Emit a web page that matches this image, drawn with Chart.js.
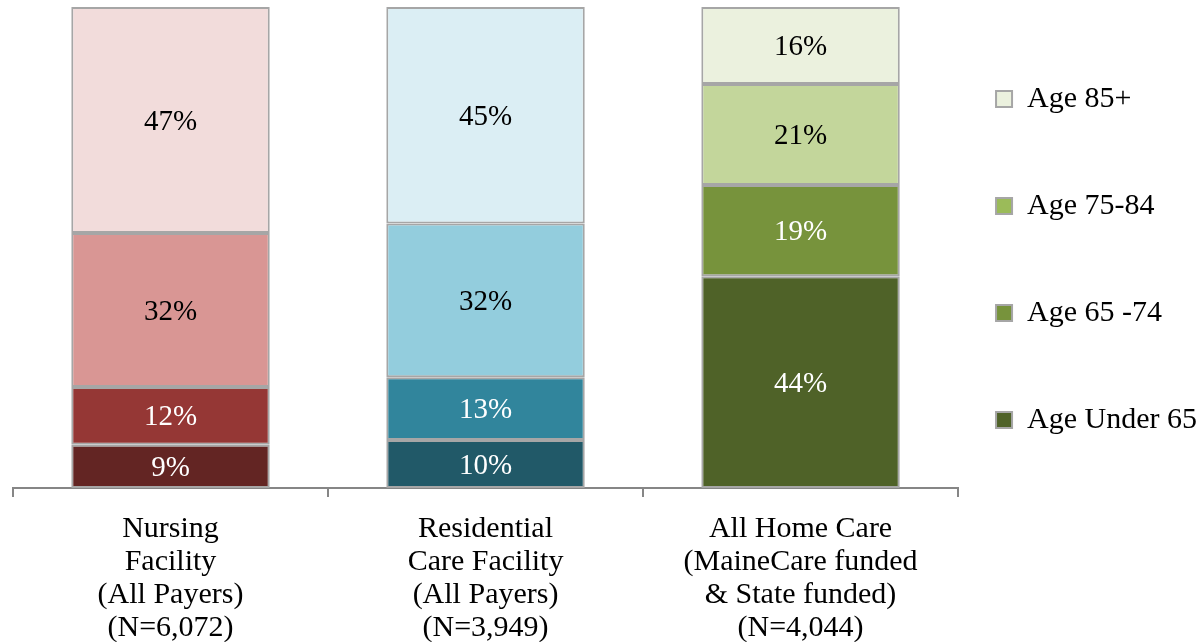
<!DOCTYPE html>
<html>
<head>
<meta charset="utf-8">
<script src="https://cdn.jsdelivr.net/npm/chart.js@4"></script>
<style>
    html, body { margin: 0; padding: 0; background: #fff; }
    #wrap { width: 1196px; height: 642px; }
</style>
</head>
<body>
<div id="wrap"><canvas id="ageChart" width="1196" height="642"></canvas></div>
<script>
// categories (multi-line x labels)
const categories = [
    ['Nursing', 'Facility', '(All Payers)', '(N=6,072)'],
    ['Residential', 'Care Facility', '(All Payers)', '(N=3,949)'],
    ['All Home Care', '(MaineCare funded', '& State funded)', '(N=4,044)']
];

// percentages per age group, one value per category
const ageUnder65 = [9, 10, 44];
const age65to74 = [12, 13, 19];
const age75to84 = [32, 32, 21];
const age85plus = [47, 45, 16];

const seriesLabels = ['Age Under 65', 'Age 65 -74', 'Age 75-84', 'Age 85+'];

// each bar has its own colour family
const colorsUnder65 = ['#632523', '#215968', '#4f6228'];
const colors65to74 = ['#953735', '#31859c', '#77933c'];
const colors75to84 = ['#d99694', '#93cddd', '#c3d69b'];
const colors85plus = ['#f2dcdb', '#dbeef4', '#ebf1de'];
const legendColors = ['#4f6228', '#77933c', '#9bbb59', '#ebf1de'];

// white label text on the dark segments
const textUnder65 = ['#fff', '#fff', '#fff'];
const text65to74 = ['#fff', '#fff', '#fff'];
const text75to84 = ['#000', '#000', '#000'];
const text85plus = ['#000', '#000', '#000'];

const FONT = "'Liberation Serif', 'Times New Roman', serif";
const BORDER = '#a6a6a6';

function makeDataset(label, data, colors, textColors) {
    return {
        label: label,
        data: data,
        backgroundColor: colors,
        borderColor: BORDER,
        borderWidth: 2,
        borderSkipped: false,
        textColors: textColors
    };
}

// draws the percentage inside each segment
const segmentLabels = {
    id: 'segmentLabels',
    afterDatasetsDraw(chart) {
        const ctx = chart.ctx;
        ctx.save();
        ctx.font = '29px ' + FONT;
        ctx.textAlign = 'center';
        ctx.textBaseline = 'middle';
        chart.data.datasets.forEach((ds, i) => {
            const meta = chart.getDatasetMeta(i);
            meta.data.forEach((bar, j) => {
                const p = bar.getProps(['x', 'y', 'base'], true);
                ctx.fillStyle = ds.textColors[j];
                ctx.fillText(ds.data[j] + '%', p.x, (p.y + p.base) / 2 + 2);
            });
        });
        ctx.restore();
    }
};

Chart.defaults.font.family = FONT;
Chart.defaults.color = '#000';

new Chart(document.getElementById('ageChart').getContext('2d'), {
    type: 'bar',
    data: {
        labels: categories,
        datasets: [
            makeDataset(seriesLabels[0], ageUnder65, colorsUnder65, textUnder65),
            makeDataset(seriesLabels[1], age65to74, colors65to74, text65to74),
            makeDataset(seriesLabels[2], age75to84, colors75to84, text75to84),
            makeDataset(seriesLabels[3], age85plus, colors85plus, text85plus)
        ]
    },
    options: {
        responsive: false,
        animation: false,
        layout: { padding: { left: 13, top: 7, bottom: -19, right: -11 } },
        categoryPercentage: 1,
        barPercentage: 0.63,
        scales: {
            x: {
                stacked: true,
                border: { display: true, color: '#868686', width: 2 },
                grid: {
                    display: true,
                    offset: true,
                    drawOnChartArea: false,
                    drawTicks: true,
                    tickLength: 9,
                    color: '#868686',
                    lineWidth: 2
                },
                ticks: {
                    padding: 16,
                    color: '#000',
                    font: { size: 30, lineHeight: '33px' },
                    maxRotation: 0
                }
            },
            y: {
                stacked: true,
                display: false,
                min: 0,
                max: 100
            }
        },
        plugins: {
            tooltip: { enabled: false },
            legend: {
                position: 'right',
                align: 'start',
                reverse: true,
                title: { display: true, text: '', padding: 0, font: { size: 12, lineHeight: '39px' } },
                labels: {
                    boxWidth: 16,
                    boxHeight: 16,
                    padding: 38,
                    color: '#000',
                    font: { size: 30, lineHeight: '69px' },
                    generateLabels(chart) {
                        return chart.data.datasets.map((ds, i) => ({
                            text: [ds.label],
                            fillStyle: legendColors[i],
                            strokeStyle: BORDER,
                            lineWidth: 2,
                            hidden: false,
                            datasetIndex: i
                        }));
                    }
                }
            }
        }
    },
    plugins: [segmentLabels]
});
</script>
</body>
</html>
